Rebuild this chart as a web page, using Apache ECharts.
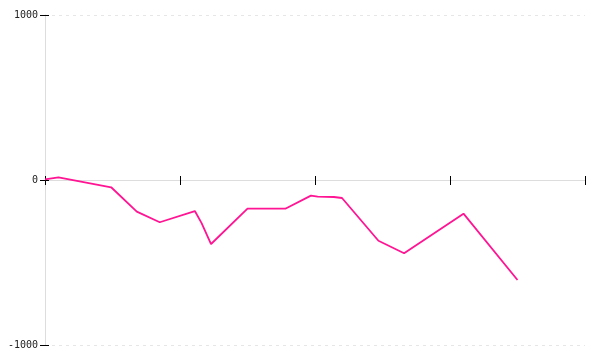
<!DOCTYPE html>
<html>
<head>
<meta charset="utf-8">
<script src="https://cdn.jsdelivr.net/npm/echarts@6/dist/echarts.min.js"></script>
<style>html,body{margin:0;padding:0;background:#fff}#c{width:600px;height:360px}</style>
</head>
<body>
<div id="c"></div>
<script>
const xValues = [0, 10, 49, 68, 85, 111, 116, 123, 150, 178, 197, 202, 214, 220, 247, 266, 310, 350];
const yValues = [4, 16, -44, -192, -256, -188, -261, -388, -174, -174, -95, -101, -103, -109, -368, -444, -204, -606];
const yTicks = [-1000, 0, 1000];

const chart = echarts.init(document.getElementById('c'), null, {renderer: 'canvas'});
const labelFont = {fontFamily: 'DejaVu Sans Mono', fontSize: 10, color: '#222'};
const xBase = {
  type: 'value', min: 0, max: 400, interval: 100, position: 'bottom',
  axisLine: {show: true, onZero: true, lineStyle: {color: '#ddd', width: 1}},
  axisLabel: {show: false}, splitLine: {show: false}
};
const yBase = {
  type: 'value', min: -1000, max: 1000, interval: 1000, position: 'left',
  axisLine: {show: true, lineStyle: {color: '#ddd', width: 1}}
};
chart.setOption({
  animation: false,
  grid: {left: 45, right: 15, top: 15, bottom: 15, containLabel: false},
  xAxis: [
    Object.assign({}, xBase, {axisTick: {show: true, inside: false, length: 5, lineStyle: {color: '#000', width: 1}}}),
    Object.assign({}, xBase, {axisLine: {show: false, onZero: true}, axisTick: {show: true, inside: true, length: 4, lineStyle: {color: '#000', width: 1}}})
  ],
  yAxis: [
    Object.assign({}, yBase, {
      axisTick: {show: true, inside: false, length: 5, lineStyle: {color: '#000', width: 1}},
      axisLabel: Object.assign({show: true, margin: 7, formatter: v => yTicks.includes(v) ? String(v) : ''}, labelFont),
      splitLine: {show: true, lineStyle: {color: '#e6e6e6', type: [3, 4], width: 1}}
    }),
    Object.assign({}, yBase, {
      axisLine: {show: false},
      axisTick: {show: true, inside: true, length: 4, lineStyle: {color: '#000', width: 1}},
      axisLabel: {show: false}, splitLine: {show: false}
    })
  ],
  series: [{
    type: 'line',
    xAxisIndex: 0, yAxisIndex: 0,
    data: xValues.map((x, i) => [x, yValues[i]]),
    showSymbol: false,
    symbol: 'none',
    lineStyle: {color: '#ff1493', width: 1.8},
    itemStyle: {color: '#ff1493'}
  }]
});
</script>
</body>
</html>
